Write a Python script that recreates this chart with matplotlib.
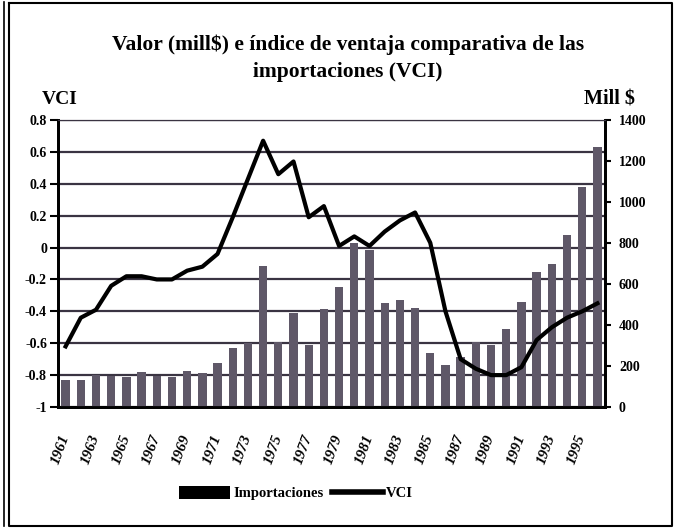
import matplotlib
matplotlib.use("Agg")
import matplotlib.pyplot as plt
from matplotlib.lines import Line2D
from matplotlib.patches import Patch

years = list(range(1961, 1997))
imports = [130, 130, 155, 153, 148, 169, 153, 148, 177, 167, 213, 286, 311, 686,
           319, 460, 302, 476, 587, 798, 766, 509, 522, 481, 265, 203,
           245, 319, 302, 379, 514, 660, 698, 839, 1072, 1270]
vci = [-0.62, -0.44, -0.39, -0.24, -0.18, -0.18, -0.20, -0.20, -0.145, -0.12,
       -0.04, 0.19, 0.43, 0.67, 0.46, 0.54, 0.19, 0.26, 0.01, 0.07, 0.01,
       0.10, 0.17, 0.22, 0.03, -0.40, -0.70, -0.76, -0.80, -0.80, -0.75,
       -0.58, -0.50, -0.44, -0.40, -0.35]
vci_ticks = [-1, -0.8, -0.6, -0.4, -0.2, 0, 0.2, 0.4, 0.6, 0.8]
vci_labels = ["-1", "-0.8", "-0.6", "-0.4", "-0.2", "0", "0.2", "0.4", "0.6", "0.8"]
mill_ticks = [0, 200, 400, 600, 800, 1000, 1200, 1400]
year_ticks = years[::2]

SERIF = "Liberation Serif"
BG = "#d9dccb"
BAR = "#5f5868"
GRID = "#3a3442"

W, H = 677, 528
fig = plt.figure(figsize=(W / 100, H / 100), dpi=100)
fig.patch.set_facecolor("white")

ax_bar = fig.add_axes([58 / W, 1 - 407 / H, (605 - 58) / W, (407 - 120) / H])
ax_vci = ax_bar.twinx()
# el eje VCI va al fondo (fondo y rejilla); barras y línea encima
ax_bar.set_zorder(ax_vci.get_zorder() + 1)
ax_bar.patch.set_visible(False)

# eje VCI (izquierdo): fondo y rejilla
ax_vci.set_facecolor(BG)
ax_vci.set_ylim(-1, 0.8)
ax_vci.set_yticks(vci_ticks)
ax_vci.set_yticklabels(vci_labels, fontfamily=SERIF, fontweight="bold", fontsize=10)
ax_vci.yaxis.tick_left()
ax_vci.tick_params(axis="y", left=True, labelleft=True, right=False, labelright=False,
                   direction="out", length=6, width=1.5, pad=2)
ax_vci.grid(axis="y", color=GRID, lw=1.6)

# barras: importaciones (eje derecho)
ax_bar.bar(years, imports, width=0.55, color=BAR, zorder=2)
ax_bar.set_xlim(1960.5, 1996.5)
ax_bar.set_ylim(0, 1400)
ax_bar.set_yticks(mill_ticks)
ax_bar.set_xticks(year_ticks)
ax_bar.set_xticklabels([str(y) for y in year_ticks], rotation=70, ha="right",
                       va="center", rotation_mode="anchor",
                       fontfamily=SERIF, fontweight="bold", fontstyle="italic",
                       fontsize=11)
ax_bar.tick_params(axis="x", length=0, pad=20)
ax_bar.yaxis.tick_right()
ax_bar.tick_params(axis="y", left=False, labelleft=False, right=True, labelright=True,
                   direction="out", length=4, width=1.5, labelsize=10, pad=6)
for lab in ax_bar.get_yticklabels():
    lab.set_fontfamily(SERIF)
    lab.set_fontweight("bold")

# línea VCI dibujada sobre las barras, con la escala del eje izquierdo
ax_bar.plot(years, vci, color="black", lw=3, solid_joinstyle="round", zorder=3,
            transform=ax_vci.transData)

for a in (ax_bar, ax_vci):
    a.spines["top"].set_color(GRID)
    for s in ("left", "right", "bottom"):
        a.spines[s].set_color("black")
        a.spines[s].set_linewidth(2)

fig.text(348 / W, 1 - 45 / H, "Valor (mill$) e índice de ventaja comparativa de las",
         ha="center", va="center", fontfamily=SERIF, fontweight="bold", fontsize=15.5)
fig.text(348 / W, 1 - 72 / H, "importaciones (VCI)",
         ha="center", va="center", fontfamily=SERIF, fontweight="bold", fontsize=15.5)
fig.text(60 / W, 1 - 100 / H, "VCI", ha="center", va="center",
         fontfamily=SERIF, fontweight="bold", fontsize=14)
fig.text(609 / W, 1 - 100 / H, "Mill $", ha="center", va="center",
         fontfamily=SERIF, fontweight="bold", fontsize=14.5)

handles = [Patch(facecolor="black", edgecolor="none"),
           Line2D([0], [0], color="black", lw=4)]
fig.legend(handles, ["Importaciones", "VCI"], loc="center",
           bbox_to_anchor=(296 / W, 1 - 493 / H), ncol=2, frameon=False,
           handlelength=3.5, handleheight=1.0, columnspacing=0.6, handletextpad=0.2,
           prop={"family": SERIF, "weight": "bold", "size": 10.5})

# marco del gráfico
fig.add_artist(Line2D([4 / W, 4 / W], [2 / H, 1 - 2 / H], color="black", lw=1.2))
fig.add_artist(Line2D([9 / W, 672 / W, 672 / W, 9 / W, 9 / W],
                      [1 - 3 / H, 1 - 3 / H, 1 - 526 / H, 1 - 526 / H, 1 - 3 / H],
                      color="black", lw=1.5))

fig.savefig("out.png", dpi=100)
